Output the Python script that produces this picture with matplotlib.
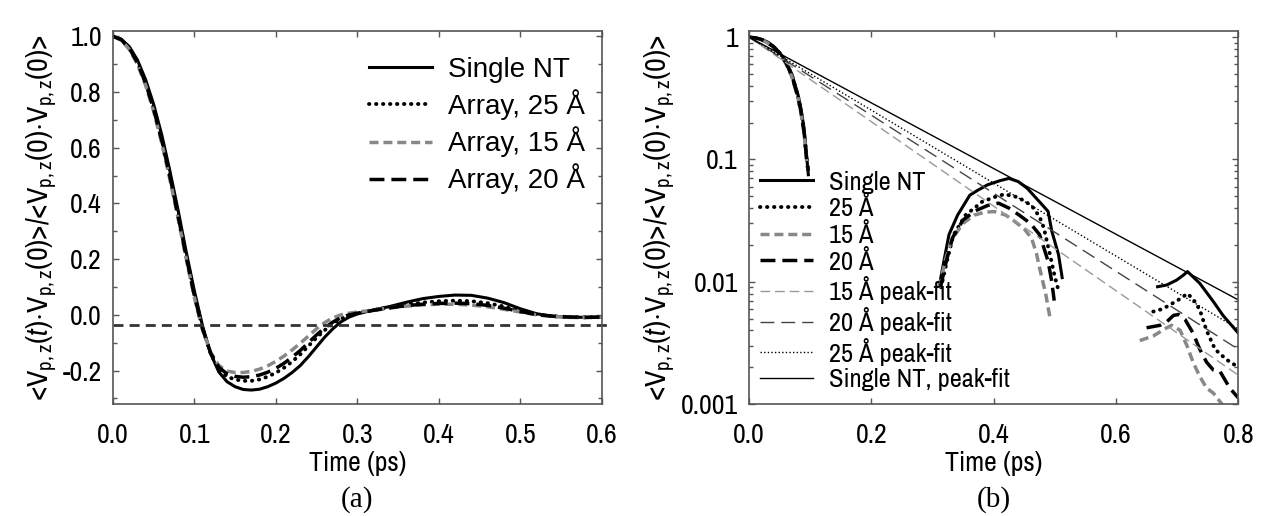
import numpy as np
import matplotlib
matplotlib.use("Agg")
import matplotlib.pyplot as plt
from matplotlib import font_manager
from matplotlib.ticker import MultipleLocator, FixedLocator, FuncFormatter, LogLocator, NullFormatter

# ---------------- data: panel (a) ----------------
t_a = [0.00, 0.01, 0.02, 0.03, 0.04, 0.05, 0.06, 0.07, 0.08, 0.09,
       0.10, 0.11, 0.12, 0.13, 0.14, 0.15, 0.16, 0.17, 0.18, 0.19,
       0.20, 0.21, 0.22, 0.23, 0.24, 0.25, 0.26, 0.27, 0.28, 0.29,
       0.30, 0.32, 0.34, 0.36, 0.38, 0.40, 0.42, 0.44, 0.46, 0.48,
       0.50, 0.52, 0.54, 0.56, 0.58, 0.60]
single_a = [1.000, 0.990, 0.963, 0.915, 0.845, 0.755, 0.645, 0.515, 0.375, 0.225,
            0.085, -0.040, -0.140, -0.205, -0.240, -0.258, -0.268, -0.270, -0.267, -0.258,
            -0.245, -0.228, -0.207, -0.182, -0.150, -0.115, -0.080, -0.050, -0.025, -0.008,
            0.003, 0.018, 0.030, 0.045, 0.058, 0.066, 0.071, 0.070, 0.060, 0.044,
            0.022, 0.004, -0.005, -0.008, -0.009, -0.008]
a25_a = [1.000, 0.988, 0.958, 0.908, 0.835, 0.742, 0.630, 0.500, 0.360, 0.212,
         0.072, -0.048, -0.140, -0.195, -0.222, -0.232, -0.237, -0.237, -0.232, -0.222,
         -0.208, -0.190, -0.168, -0.142, -0.112, -0.082, -0.055, -0.032, -0.014, -0.002,
         0.006, 0.017, 0.027, 0.037, 0.044, 0.049, 0.051, 0.049, 0.042, 0.030,
         0.015, 0.002, -0.005, -0.008, -0.009, -0.008]
a15_a = [1.000, 0.986, 0.953, 0.900, 0.825, 0.730, 0.615, 0.485, 0.345, 0.200,
         0.062, -0.055, -0.135, -0.182, -0.202, -0.207, -0.207, -0.203, -0.195, -0.183,
         -0.167, -0.148, -0.126, -0.102, -0.076, -0.050, -0.028, -0.011, 0.000, 0.006,
         0.010, 0.017, 0.025, 0.031, 0.036, 0.038, 0.038, 0.035, 0.029, 0.020,
         0.010, 0.000, -0.006, -0.009, -0.010, -0.008]
a20_a = [1.000, 0.988, 0.957, 0.906, 0.832, 0.738, 0.625, 0.495, 0.355, 0.208,
         0.068, -0.050, -0.138, -0.188, -0.212, -0.221, -0.224, -0.222, -0.216, -0.206,
         -0.192, -0.174, -0.152, -0.128, -0.100, -0.072, -0.047, -0.026, -0.010, 0.000,
         0.006, 0.016, 0.025, 0.033, 0.038, 0.041, 0.042, 0.040, 0.034, 0.024,
         0.012, 0.001, -0.005, -0.008, -0.009, -0.008]
hline_t = [0.0, 0.612]
hline_v = [-0.036, -0.036]

# ---------------- data: panel (b), three positive segments ----------------
t_b1 = [0.0, 0.01, 0.02, 0.03, 0.04, 0.05, 0.06, 0.07, 0.08, 0.085, 0.09, 0.094, 0.097]
single_b1 = [1.0, 0.99, 0.963, 0.915, 0.845, 0.75, 0.64, 0.50, 0.34, 0.26, 0.18, 0.11, 0.075]
a25_b1 = [1.0, 0.988, 0.958, 0.908, 0.835, 0.74, 0.628, 0.49, 0.33, 0.25, 0.17, 0.105, 0.078]
a15_b1 = [1.0, 0.986, 0.953, 0.90, 0.825, 0.728, 0.613, 0.475, 0.32, 0.24, 0.165, 0.10, 0.08]
a20_b1 = [1.0, 0.988, 0.957, 0.906, 0.832, 0.736, 0.623, 0.485, 0.325, 0.245, 0.168, 0.103, 0.08]

single_t2 = [0.311, 0.320, 0.327, 0.341, 0.361, 0.374, 0.39, 0.41, 0.425, 0.44, 0.455, 0.475, 0.489, 0.495, 0.506, 0.512]
single_b2 = [0.0092, 0.016, 0.0243, 0.035, 0.051, 0.056, 0.062, 0.067, 0.070, 0.066, 0.058, 0.045, 0.0376, 0.026, 0.0167, 0.0108]
a25_t2 = [0.314, 0.324, 0.334, 0.354, 0.381, 0.40, 0.418, 0.44, 0.462, 0.475, 0.482, 0.492, 0.50, 0.506]
a25_b2 = [0.009, 0.015, 0.024, 0.035, 0.045, 0.049, 0.052, 0.049, 0.042, 0.034, 0.0276, 0.0167, 0.011, 0.0085]
a20_t2 = [0.313, 0.323, 0.333, 0.35, 0.37, 0.39, 0.408, 0.425, 0.442, 0.46, 0.475, 0.482, 0.489, 0.495, 0.499]
a20_b2 = [0.009, 0.015, 0.023, 0.032, 0.038, 0.042, 0.0439, 0.040, 0.035, 0.030, 0.0243, 0.019, 0.0147, 0.010, 0.0070]
a15_t2 = [0.311, 0.321, 0.331, 0.35, 0.368, 0.385, 0.401, 0.42, 0.435, 0.45, 0.462, 0.47, 0.475, 0.485, 0.492]
a15_b2 = [0.0089, 0.015, 0.022, 0.030, 0.035, 0.037, 0.0375, 0.035, 0.031, 0.027, 0.0227, 0.017, 0.013, 0.008, 0.0051]

single_t3 = [0.668, 0.683, 0.699, 0.71, 0.717, 0.737, 0.759, 0.775, 0.8]
single_b3 = [0.0091, 0.0094, 0.0103, 0.0113, 0.0121, 0.0097, 0.0069, 0.0053, 0.0038]
a25_t3 = [0.661, 0.672, 0.683, 0.702, 0.717, 0.727, 0.737, 0.748, 0.762, 0.781, 0.8]
a25_b3 = [0.0057, 0.0059, 0.00625, 0.0071, 0.0080, 0.0071, 0.0059, 0.0040, 0.0028, 0.0023, 0.0020]
a20_t3 = [0.65, 0.672, 0.683, 0.694, 0.702, 0.713, 0.726, 0.737, 0.748, 0.759, 0.77, 0.786, 0.8]
a20_b3 = [0.0042, 0.0044, 0.0047, 0.0053, 0.0054, 0.0049, 0.0038, 0.0028, 0.0022, 0.0019, 0.00185, 0.00135, 0.00112]
a15_t3 = [0.639, 0.661, 0.683, 0.691, 0.705, 0.716, 0.726, 0.737, 0.748, 0.759, 0.773, 0.79]
a15_b3 = [0.0033, 0.0036, 0.0042, 0.0044, 0.0040, 0.0030, 0.0022, 0.00168, 0.00135, 0.00123, 0.0010, 0.0008]

# peak fits: straight lines on the log axis, end points
fit_t = [0.0, 0.8]
fit_single = [1.0, 0.0071]
fit_25 = [1.0, 0.0041]
fit_20 = [1.0, 0.0028]
fit_15 = [1.0, 0.00172]

xticks_a = [0.0, 0.1, 0.2, 0.3, 0.4, 0.5, 0.6]
yticks_a = [-0.2, 0.0, 0.2, 0.4, 0.6, 0.8, 1.0]
xticks_b = [0.0, 0.2, 0.4, 0.6, 0.8]
yticks_b = [0.001, 0.01, 0.1, 1]
yticklabels_b = ["0.001", "0.01", "0.1", "1"]

# ---------------- fonts ----------------
available = {f.name for f in font_manager.fontManager.ttflist}
FONT = next((f for f in ["Archivo Narrow", "Roboto Condensed", "Liberation Sans"] if f in available), "DejaVu Sans")
WIDE = next((f for f in ["Liberation Sans", "DejaVu Sans"] if f in available), "sans-serif")
SERIF = next((f for f in ["Liberation Serif", "DejaVu Serif"] if f in available), "serif")
plt.rcParams["font.family"] = [FONT, "DejaVu Sans"]
plt.rcParams["mathtext.fontset"] = "custom"
plt.rcParams["mathtext.rm"] = FONT
plt.rcParams["mathtext.it"] = FONT + ":italic"
plt.rcParams["axes.unicode_minus"] = False

FS = 20
YLABEL = (r"<V$_{\rm p,z}$($\mathit{t}$)$\cdot$V$_{\rm p,z}$(0)>/"
          r"<V$_{\rm p,z}$(0)$\cdot$V$_{\rm p,z}$(0)>")

# line styles
ST_SINGLE = dict(color="black", lw=2.2, ls="-")
ST_25 = dict(color="black", lw=2.8, ls=(0, (0.1, 1.7)), dash_capstyle="round")
ST_15 = dict(color="#888888", lw=2.5, ls=(0, (2.6, 1.4)))
ST_20 = dict(color="black", lw=2.5, ls=(0, (4.3, 2.0)))


def style_axes(ax):
    for s in ax.spines.values():
        s.set_color("#555555")
        s.set_linewidth(1.2)
    ax.tick_params(which="both", direction="in", top=True, right=True,
                   color="#555555", labelsize=FS)
    ax.tick_params(which="major", length=4.5, width=1.0)
    ax.tick_params(which="minor", length=3.0, width=1.0)
    ax.tick_params(axis="x", pad=14)
    ax.tick_params(axis="y", pad=8)


fig = plt.figure(figsize=(12.65, 5.16), dpi=100)
ax1 = fig.add_axes([0.0893, 0.2171, 0.3863, 0.7234])
ax2 = fig.add_axes([0.5921, 0.2171, 0.3868, 0.7234])

# ================= panel (a) =================
ax1.plot(t_a, single_a, label="Single NT", **ST_SINGLE)
ax1.plot(t_a, a25_a, label="Array, 25 Å", **ST_25)
ax1.plot(t_a, a15_a, label="Array, 15 Å", **ST_15)
ax1.plot(t_a, a20_a, label="Array, 20 Å", **ST_20)
ax1.plot(hline_t, hline_v, color="#333333", lw=2.0, ls=(0, (3.6, 2.2)), clip_on=False)
ax1.set_xlim(0, 0.6)
ax1.set_ylim(-0.32, 1.02)
ax1.xaxis.set_major_locator(FixedLocator(xticks_a))
ax1.yaxis.set_major_locator(FixedLocator(yticks_a))
ax1.yaxis.set_minor_locator(MultipleLocator(0.1))
ax1.xaxis.set_major_formatter(FuncFormatter(lambda v, p: f"{v:.1f}"))
ax1.yaxis.set_major_formatter(FuncFormatter(lambda v, p: f"{v:.1f}"))
style_axes(ax1)
ax1.set_xlabel("Time (ps)", fontsize=FS, labelpad=2)
ax1.set_ylabel(YLABEL, fontsize=FS + 1.5, labelpad=2)
ax1.legend(loc="upper left", bbox_to_anchor=(0.524, 0.93), frameon=False,
           prop={"family": [WIDE, "DejaVu Sans"], "size": 20},
           handlelength=2.25, handletextpad=0.6, labelspacing=0.23, borderpad=0, borderaxespad=0)

# ================= panel (b) =================
ax2.set_yscale("log")
ax2.plot(t_b1, single_b1, label="Single NT", **ST_SINGLE)
ax2.plot(t_b1, a25_b1, label="25 Å", **ST_25)
ax2.plot(t_b1, a15_b1, label="15 Å", **ST_15)
ax2.plot(t_b1, a20_b1, label="20 Å", **ST_20)
ax2.plot(single_t2, single_b2, **ST_SINGLE)
ax2.plot(a25_t2, a25_b2, **ST_25)
ax2.plot(a15_t2, a15_b2, **ST_15)
ax2.plot(a20_t2, a20_b2, **ST_20)
ax2.plot(single_t3, single_b3, **ST_SINGLE)
ax2.plot(a25_t3, a25_b3, **ST_25)
ax2.plot(a15_t3, a15_b3, **ST_15)
ax2.plot(a20_t3, a20_b3, **ST_20)

ax2.plot(fit_t, fit_15, color="#999999", lw=1.0, ls=(0, (7, 3.5)), label="15 Å peak-fit")
ax2.plot(fit_t, fit_20, color="#444444", lw=1.0, ls=(0, (10, 5)), label="20 Å peak-fit")
ax2.plot(fit_t, fit_25, color="black", lw=1.0, ls=(0, (1, 1.6)), label="25 Å peak-fit")
ax2.plot(fit_t, fit_single, color="black", lw=1.0, ls="-", label="Single NT, peak-fit")

ax2.set_xlim(0, 0.8)
ax2.set_ylim(0.001, 1.13)
ax2.xaxis.set_major_locator(FixedLocator(xticks_b))
ax2.xaxis.set_major_formatter(FuncFormatter(lambda v, p: f"{v:.1f}"))
ax2.yaxis.set_major_locator(FixedLocator(yticks_b))
ax2.yaxis.set_major_formatter(FuncFormatter(
    lambda v, p: yticklabels_b[int(np.argmin([abs(np.log10(q) - np.log10(v)) for q in yticks_b]))]))
ax2.yaxis.set_minor_locator(LogLocator(base=10, subs=np.arange(2, 10)))
ax2.yaxis.set_minor_formatter(NullFormatter())
style_axes(ax2)
ax2.set_xlabel("Time (ps)", fontsize=FS, labelpad=2)
ax2.set_ylabel(YLABEL, fontsize=FS + 1.5, labelpad=2)
ax2.legend(loc="upper left", bbox_to_anchor=(0.0225, 0.625), frameon=False, fontsize=FS - 1,
           handlelength=2.0, handletextpad=0.6, labelspacing=0.1, borderpad=0, borderaxespad=0)

fig.text(0.2824, 0.031, "(a)", ha="center", va="center", fontsize=FS + 1, family=[SERIF, "DejaVu Serif"])
fig.text(0.7855, 0.031, "(b)", ha="center", va="center", fontsize=FS + 1, family=[SERIF, "DejaVu Serif"])

fig.savefig("out.png", dpi=100)
